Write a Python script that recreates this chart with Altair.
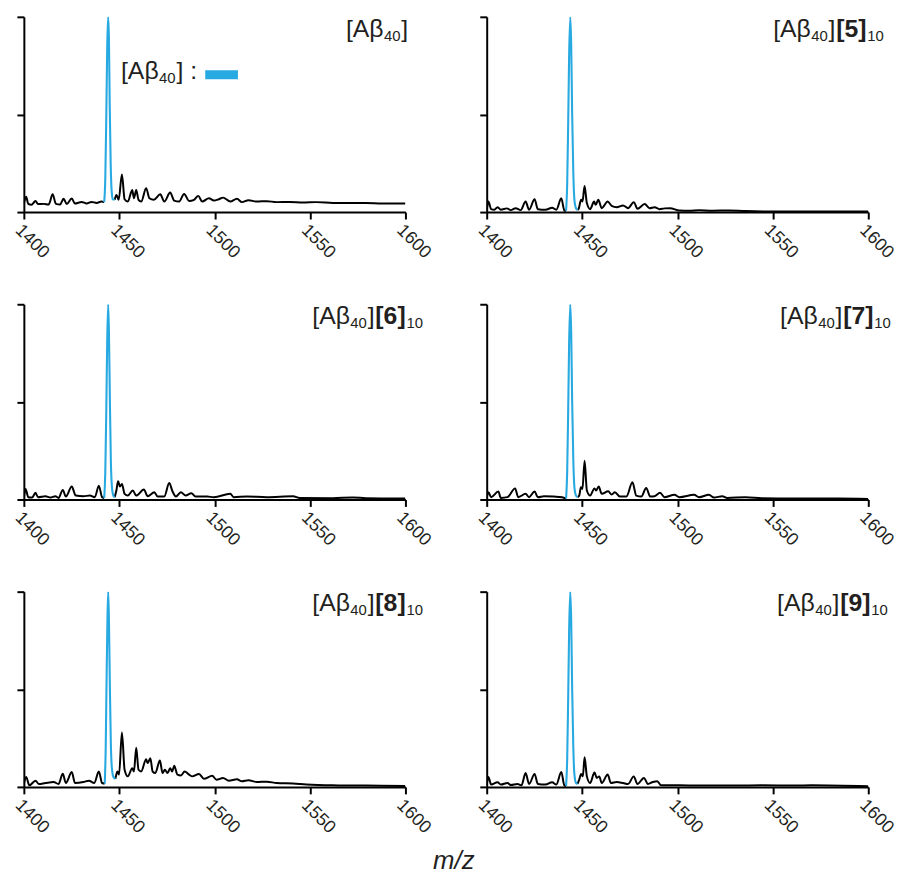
import altair as alt
import pandas as pd

FONT = "Liberation Sans"
BLUE = "#27a9e1"
INK = "#231f20"
LINE = "#000000"

X_TICKS = [1400, 1450, 1500, 1550, 1600]
Y_TICKS = [0, 50, 100]
X_TITLE = "m/z"
COMPOUNDS = [None, "5", "6", "7", "8", "9"]

# ---- spectrum 1: [Abeta40] ----
S1_MZ = [1400.0, 1401.2, 1402.3, 1404.0, 1406.1, 1407.4, 1410.4, 1413.0, 1415.1, 1416.8, 1419.0,
         1420.8, 1422.5, 1425.1, 1426.8, 1430.3, 1432.9, 1435.5, 1438.1, 1440.7, 1442.1,
         1447.6, 1448.5, 1449.7, 1451.4, 1452.8, 1454.5, 1456.8, 1457.7, 1458.9, 1460.1, 1461.5,
         1464.1, 1465.8, 1468.1, 1471.5, 1473.6, 1476.7, 1478.8, 1481.4, 1484.0, 1486.6, 1489.2,
         1491.4, 1493.5, 1497.0, 1499.6, 1502.2, 1504.4, 1508.2, 1511.7, 1514.3, 1517.7, 1522.1,
         1527.3, 1532.5, 1539.4, 1546.3, 1553.2, 1561.9, 1570.6, 1579.2, 1587.9, 1600.0]
S1_INT = [4.2, 7.9, 4.2, 3.7, 5.7, 4.1, 4.2, 3.9, 9.1, 4.2, 3.9,
          6.8, 4.1, 6.9, 4.4, 5.2, 4.4, 5.2, 4.7, 5.4, 5.1,
          6.3, 8.8, 6.3, 19.3, 6.6, 5.4, 11.3, 7.1, 11.3, 6.3, 5.4,
          12.2, 7.1, 6.3, 9.1, 5.4, 10.0, 5.9, 5.4, 9.3, 5.7, 6.3,
          8.3, 5.4, 7.1, 5.9, 6.6, 7.4, 5.4, 6.8, 5.1, 6.1, 5.4,
          5.6, 5.1, 5.2, 4.9, 5.1, 4.7, 4.6, 4.7, 4.4, 4.4]
S1_PK_MZ = [1442.1, 1442.7, 1443.2, 1443.7, 1444.2, 1444.6, 1445.0, 1445.5, 1446.0, 1446.6, 1447.6]
S1_PK_INT = [5.1, 18, 48, 85, 100, 88, 55, 25, 11, 6.5, 6.3]

# ---- spectrum 2: [Abeta40][5]10 ----
S2_MZ = [1400.0, 1400.9, 1402.3, 1404.0, 1405.7, 1407.4, 1410.6, 1412.6, 1415.2, 1417.8, 1420.4,
         1422.2, 1425.1, 1426.8, 1430.8, 1434.3, 1436.5, 1439.1, 1440.7, 1441.6,
         1447.6, 1448.1, 1449.5, 1450.2, 1451.3, 1452.5, 1454.2, 1456.3, 1457.1, 1458.5, 1460.3,
         1463.4, 1465.5, 1468.1, 1471.5, 1474.1, 1477.1, 1479.0, 1482.8, 1485.4, 1488.0, 1490.6,
         1493.2, 1496.1, 1501.0, 1506.1, 1511.3, 1518.3, 1526.9, 1535.6, 1552.9, 1570.2, 1600.0]
S2_INT = [0.8, 5.4, 1.5, 1.2, 2.5, 1.2, 1.9, 1.0, 2.0, 1.0, 5.4,
          1.2, 6.6, 1.5, 1.2, 2.2, 1.2, 7.1, 0.8, 0.7,
          1.2, 1.5, 6.3, 5.4, 13.3, 4.6, 1.5, 5.4, 3.7, 6.3, 2.0,
          5.4, 3.2, 2.5, 3.4, 2.0, 5.1, 1.7, 4.1, 2.0, 2.5, 1.5,
          1.9, 2.0, 0.8, 0.7, 1.0, 0.7, 0.8, 0.5, 0.3, 0.3, 0.3]
S2_PK_MZ = [1441.6, 1442.2, 1442.7, 1443.2, 1443.8, 1444.3, 1444.8, 1445.4, 1446.0, 1446.8, 1447.6]
S2_PK_INT = [0.7, 15, 45, 80, 100, 85, 50, 20, 6, 2, 1.2]

# ---- spectrum 3: [Abeta40][6]10 ----
S3_MZ = [1400.0, 1400.9, 1402.3, 1404.3, 1406.1, 1407.4, 1411.3, 1413.9, 1416.5, 1418.2, 1420.4,
         1422.0, 1425.1, 1427.2, 1431.2, 1434.6, 1437.2, 1439.3, 1441.0, 1442.1,
         1447.6, 1448.5, 1449.4, 1450.4, 1451.4, 1452.8, 1454.5, 1457.1, 1458.9, 1462.9, 1464.9,
         1468.4, 1470.1, 1473.6, 1476.2, 1477.9, 1479.7, 1482.3, 1484.8, 1487.8, 1490.0, 1496.1,
         1499.6, 1508.2, 1510.0, 1516.9, 1527.3, 1541.1, 1544.6, 1561.9, 1572.3, 1579.2, 1600.0]
S3_INT = [0.8, 5.4, 1.2, 1.0, 3.4, 1.2, 1.7, 1.0, 1.7, 0.8, 4.9,
          1.5, 6.6, 2.0, 1.7, 2.0, 1.2, 7.1, 1.2, 0.8,
          1.2, 4.6, 9.3, 6.6, 7.9, 2.9, 2.0, 4.6, 2.0, 5.1, 1.7,
          3.7, 1.5, 1.5, 8.4, 4.2, 1.5, 3.7, 2.0, 3.2, 1.5, 1.5,
          1.2, 2.9, 1.2, 1.5, 1.2, 1.7, 0.8, 0.7, 1.0, 0.7, 0.5]
S3_PK_MZ = [1442.1, 1442.7, 1443.2, 1443.7, 1444.2, 1444.6, 1445.1, 1445.6, 1446.2, 1446.9, 1447.6]
S3_PK_INT = [0.8, 15, 45, 82, 100, 85, 50, 20, 6, 2, 1.2]

# ---- spectrum 4: [Abeta40][7]10 ----
S4_MZ = [1400.0, 1400.9, 1402.3, 1406.1, 1407.4, 1410.9, 1414.9, 1416.5, 1420.4, 1422.2, 1425.1,
         1426.8, 1430.0, 1435.2, 1439.5, 1441.6,
         1447.6, 1448.5, 1449.4, 1450.2, 1451.3, 1452.5, 1454.2, 1456.5, 1457.3, 1458.7, 1460.3,
         1463.7, 1465.5, 1467.2, 1469.8, 1473.2, 1476.4, 1478.4, 1481.0, 1483.6, 1485.7, 1488.0,
         1490.9, 1493.2, 1498.4, 1501.0, 1508.7, 1511.3, 1516.5, 1519.1, 1523.5, 1526.1, 1535.6,
         1544.2, 1561.6, 1584.1, 1600.0]
S4_INT = [0.8, 3.7, 1.2, 4.1, 0.8, 1.2, 5.7, 1.2, 2.9, 1.2, 4.1,
          1.2, 1.7, 1.5, 1.2, 0.5,
          1.2, 2.0, 6.3, 5.4, 19.8, 4.6, 2.0, 5.7, 4.6, 6.6, 2.9,
          4.2, 2.5, 3.7, 1.5, 1.5, 8.8, 2.0, 1.5, 5.9, 1.5, 1.7,
          3.4, 1.2, 2.4, 1.2, 2.4, 1.2, 2.4, 1.0, 1.7, 0.8, 1.2,
          0.7, 0.5, 0.5, 0.3]
S4_PK_MZ = [1441.6, 1442.2, 1442.7, 1443.2, 1443.8, 1444.3, 1444.8, 1445.4, 1446.0, 1446.8, 1447.6]
S4_PK_INT = [0.5, 15, 45, 80, 100, 85, 50, 20, 6, 2, 1.2]

# ---- spectrum 5: [Abeta40][8]10 ----
S5_MZ = [1400.0, 1401.2, 1402.9, 1406.1, 1407.8, 1411.3, 1415.6, 1418.2, 1420.4, 1422.0, 1425.1,
         1426.8, 1431.2, 1434.1, 1436.9, 1439.3, 1441.0, 1442.4,
         1448.0, 1449.0, 1449.9, 1451.4, 1452.8, 1454.5, 1456.8, 1457.7, 1458.9, 1460.1, 1461.5,
         1464.1, 1464.9, 1466.3, 1467.5, 1468.9, 1471.3, 1472.7, 1473.9, 1475.3, 1476.7, 1477.7,
         1478.8, 1480.5, 1482.3, 1484.3, 1486.6, 1488.3, 1491.8, 1494.4, 1498.7, 1501.0, 1504.4,
         1507.4, 1511.7, 1514.3, 1517.7, 1522.1, 1527.3, 1532.5, 1541.1, 1548.1, 1561.9, 1579.2,
         1600.0]
S5_INT = [1.5, 5.1, 0.8, 3.2, 1.5, 2.0, 2.5, 1.5, 6.8, 2.0, 7.6,
          2.0, 2.5, 3.2, 2.0, 7.9, 2.0, 1.7,
          4.2, 7.9, 6.3, 27.9, 8.8, 5.4, 9.6, 7.9, 20.1, 8.8, 7.9,
          14.2, 12.2, 14.7, 7.9, 7.1, 13.5, 7.1, 8.8, 7.1, 9.6, 7.9,
          10.8, 6.3, 5.9, 7.9, 6.3, 5.4, 6.6, 4.2, 5.7, 3.7, 4.6,
          3.2, 3.9, 2.9, 3.4, 2.5, 2.7, 2.0, 1.7, 1.2, 0.8, 0.7,
          0.5]
S5_PK_MZ = [1442.4, 1442.9, 1443.3, 1443.8, 1444.2, 1444.6, 1445.1, 1445.6, 1446.2, 1447.0, 1448.0]
S5_PK_INT = [1.7, 20, 50, 85, 100, 85, 50, 22, 9, 5, 4.2]

# ---- spectrum 6: [Abeta40][9]10 ----
S6_MZ = [1400.0, 1400.9, 1402.3, 1405.7, 1407.4, 1410.9, 1412.6, 1416.1, 1418.2, 1420.4, 1422.2,
         1425.1, 1426.8, 1430.8, 1434.3, 1436.5, 1439.1, 1440.7, 1441.6,
         1447.6, 1448.5, 1449.5, 1450.4, 1451.3, 1452.5, 1454.2, 1456.5, 1457.7, 1459.0, 1460.3,
         1463.4, 1465.1, 1468.1, 1471.5, 1474.1, 1477.1, 1479.0, 1482.4, 1484.5, 1487.1, 1489.4,
         1491.4, 1501.0, 1511.3, 1526.9, 1544.2, 1561.6, 1570.2, 1600.0]
S6_INT = [0.8, 5.1, 1.2, 2.4, 1.2, 2.0, 1.0, 1.5, 0.8, 7.1, 1.5,
          6.6, 1.5, 1.2, 2.4, 1.2, 7.6, 0.8, 0.5,
          1.5, 3.7, 6.6, 5.4, 15.2, 5.4, 2.0, 7.4, 4.6, 5.4, 2.0,
          6.3, 2.0, 2.5, 2.0, 1.5, 5.4, 1.5, 4.6, 1.5, 2.5, 2.9,
          0.8, 0.8, 0.7, 0.7, 0.8, 0.7, 0.8, 0.3]
S6_PK_MZ = [1441.6, 1442.2, 1442.7, 1443.2, 1443.8, 1444.3, 1444.8, 1445.4, 1446.0, 1446.8, 1447.6]
S6_PK_INT = [0.5, 15, 45, 80, 100, 85, 50, 20, 6, 2, 1.5]

SPECTRA = [
    (S1_MZ, S1_INT, S1_PK_MZ, S1_PK_INT),
    (S2_MZ, S2_INT, S2_PK_MZ, S2_PK_INT),
    (S3_MZ, S3_INT, S3_PK_MZ, S3_PK_INT),
    (S4_MZ, S4_INT, S4_PK_MZ, S4_PK_INT),
    (S5_MZ, S5_INT, S5_PK_MZ, S5_PK_INT),
    (S6_MZ, S6_INT, S6_PK_MZ, S6_PK_INT),
]

# ---- layout ----
PW, PH = 385, 197
TITLE_X = [325, 289, 291, 296, 291, 293]
MAIN_FS, SUB_FS = 25, 15

W_N = {"[": 0.278, "]": 0.278, "A": 0.667, "\u03b2": 0.56, " ": 0.278, ":": 0.278}
W_B = {"[": 0.333, "]": 0.333}


def text_w(s, size, bold=False):
    tot = 0.0
    for ch in s:
        if ch.isdigit():
            tot += 0.556
        elif bold:
            tot += W_B.get(ch, 0.6)
        else:
            tot += W_N.get(ch, 0.6)
    return tot * size


def rich(pieces, x0, y0, gap=0.8):
    layers = []
    x = x0
    for txt, kind in pieces:
        size = SUB_FS if kind == "sub" else MAIN_FS
        dy = 4 if kind == "sub" else 0
        bold = kind == "b"
        layers.append(
            alt.Chart(pd.DataFrame({"t": [txt]}))
            .mark_text(align="left", baseline="alphabetic", font=FONT, fontSize=size,
                       fontWeight="bold" if bold else "normal", color=INK)
            .encode(text="t:N", x=alt.value(x), y=alt.value(y0 + dy))
        )
        x += text_w(txt, size, bold) + gap
    return layers, x


def panel(i):
    mz, it, pmz, pit = SPECTRA[i]
    start = pmz[0]
    seg = ["pre" if m <= start else "post" for m in mz]
    black = pd.DataFrame({"mz": mz, "I": it, "seg": seg})
    blue = pd.DataFrame({"mz": pmz, "I": pit})

    xenc = alt.X("mz:Q", title=None,
                 scale=alt.Scale(domain=[1400, 1600], nice=False, zero=False),
                 axis=alt.Axis(values=X_TICKS, format="d", labelAngle=45, labelAlign="left",
                               labelBaseline="top", labelFlush=False, labelOverlap=False,
                               labelPadding=2))
    yenc = alt.Y("I:Q", title=None,
                 scale=alt.Scale(domain=[0, 100], nice=False),
                 axis=alt.Axis(values=Y_TICKS, labels=False))

    l_black = alt.Chart(black).mark_line(color=LINE, strokeWidth=2.0, clip=True,
                                         interpolate="monotone").encode(
        x=xenc, y=yenc, detail="seg:N")
    l_blue = alt.Chart(blue).mark_line(color=BLUE, strokeWidth=2.1, clip=True,
                                       interpolate="monotone").encode(
        x="mz:Q", y="I:Q")

    pieces = [("[A\u03b2", "n"), ("40", "sub"), ("]", "n")]
    if COMPOUNDS[i] is not None:
        pieces += [("[" + COMPOUNDS[i] + "]", "b"), ("10", "sub")]
    title_layers, _ = rich(pieces, TITLE_X[i], 20)

    layers = [l_black, l_blue] + title_layers
    if i == 0:
        leg_layers, xend = rich([("[A\u03b2", "n"), ("40", "sub"), ("] :", "n")], 98, 63)
        swatch = alt.Chart(pd.DataFrame({"k": [0]})).mark_rect(color=BLUE).encode(
            x=alt.value(183), x2=alt.value(216), y=alt.value(54), y2=alt.value(63))
        layers += leg_layers + [swatch]
    return alt.layer(*layers).properties(width=PW, height=PH)


chart = alt.concat(*[panel(i) for i in range(6)], columns=2,
                   spacing={"row": 93, "column": 82}, bounds="flush").properties(
    padding={"left": 3, "top": 4, "right": 2, "bottom": 0},
    title=alt.TitleParams(X_TITLE, orient="bottom", anchor="middle", font=FONT, fontSize=26,
                          fontStyle="italic", fontWeight="normal", color=INK, offset=12),
).configure_axis(
    domainColor="#000", domainWidth=2, tickColor="#000", tickWidth=2, tickSize=7,
    labelFont=FONT, labelFontSize=18, labelColor=INK, grid=False,
).configure_view(stroke=None)

chart.save("out.html", embed_options={"renderer": "svg", "actions": False})
